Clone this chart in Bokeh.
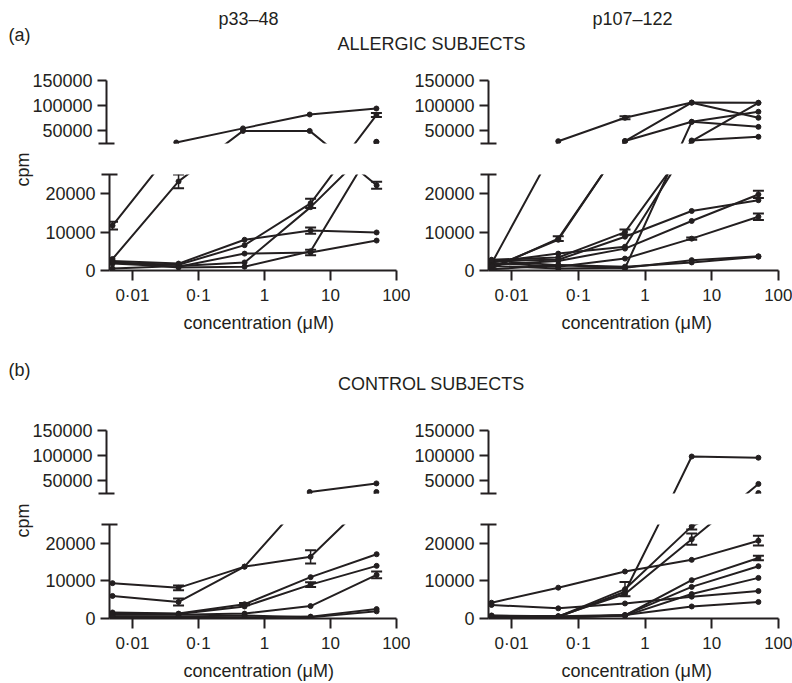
from bokeh.plotting import figure
from bokeh.models import (ColumnDataSource, Range1d, FixedTicker, CustomJSTickFormatter,
                          CustomJSTransform, Whisker, TeeHead, Label, Title)
from bokeh.layouts import column, row
from bokeh.transform import transform
from bokeh.embed import file_html
from bokeh.resources import INLINE

# ---------------- data ----------------
CONC = [0.005, 0.05, 0.5, 5, 50]          # concentration (uM)
X_TICKS = [0.01, 0.1, 1, 10, 100]
Y_TICKS_LOW = [0, 10000, 20000]
Y_TICKS_HIGH = [50000, 100000, 150000]

# (a) allergic subjects, p33-48
ALG_P33 = [
    [11700, 27000, 55000, 82500, 94400],
    [3000, 23200, 50000, 50000, 22200],
    [2500, 1800, 8000, 10400, 9900],
    [500, 1200, 2100, 16500, 28000],
    [2000, 1500, 6600, 17500, 81500],
    [1800, 1000, 4400, 4700, 7800],
    [2300, 800, 1000, 5000, 28500],
]
ALG_P33_ERR = [
    [1000, 0, 0, 0, 0],
    [0, 1800, 0, 0, 900],
    [0, 0, 0, 800, 0],
    [0, 0, 0, 0, 0],
    [0, 0, 0, 1200, 4000],
    [0, 0, 0, 700, 0],
    [0, 0, 0, 0, 0],
]

# (a) allergic subjects, p107-122
ALG_P107 = [
    [1800, 29600, 76000, 106300, 105700],
    [500, 8300, 29600, 106000, 76000],
    [800, 8000, 30000, 68000, 88000],
    [300, 1400, 600, 68000, 58000],
    [2800, 3400, 10000, 31000, 38300],
    [2200, 4400, 6200, 29600, 105700],
    [2500, 2800, 8800, 15500, 18300],
    [1500, 2500, 5700, 12900, 19800],
    [2000, 1000, 3100, 8300, 14000],
    [1200, 500, 700, 2700, 3700],
    [2600, 1400, 1000, 2100, 3600],
]
ALG_P107_ERR = [
    [0, 0, 3000, 0, 0],
    [0, 650, 0, 0, 0],
    [0, 0, 0, 0, 0],
    [0, 0, 0, 0, 0],
    [0, 0, 700, 0, 0],
    [0, 0, 0, 0, 0],
    [0, 0, 0, 0, 0],
    [0, 0, 0, 0, 950],
    [0, 0, 0, 300, 850],
    [0, 0, 0, 0, 0],
    [0, 0, 0, 0, 0],
]

# (b) control subjects, p33-48
CTL_P33 = [
    [9400, 8150, 13800, 16400, 28000],
    [6000, 4400, 13800, 28000, 45000],
    [1600, 1300, 3800, 11000, 17100],
    [1300, 1200, 3200, 9000, 14000],
    [1000, 1000, 1300, 3300, 11600],
    [300, 300, 300, 500, 2500],
    [600, 500, 800, 300, 1900],
]
CTL_P33_ERR = [
    [0, 650, 0, 1750, 0],
    [0, 950, 0, 0, 0],
    [0, 0, 300, 0, 0],
    [0, 0, 0, 650, 0],
    [0, 0, 0, 0, 870],
    [0, 0, 0, 0, 0],
    [0, 0, 0, 0, 0],
]

# (b) control subjects, p107-122
CTL_P107 = [
    [500, 400, 7100, 98400, 96000],
    [600, 500, 7800, 24500, 26000],
    [700, 600, 6500, 21100, 44000],
    [4200, 8200, 12500, 15600, 20700],
    [3600, 2700, 4000, 5800, 7300],
    [300, 300, 800, 10200, 16100],
    [300, 200, 900, 8400, 13900],
    [200, 300, 700, 6500, 10800],
    [800, 600, 900, 3200, 4400],
]
CTL_P107_ERR = [
    [0, 0, 0, 0, 0],
    [0, 0, 1900, 800, 0],
    [0, 0, 0, 1500, 0],
    [0, 0, 0, 0, 1300],
    [0, 0, 0, 0, 0],
    [0, 0, 0, 0, 600],
    [0, 0, 0, 0, 0],
    [0, 0, 0, 0, 0],
    [0, 0, 0, 0, 0],
]

# ---------------- style / geometry ----------------
INK = "#231f20"
FONT = "Liberation Sans"
LOW_PX, GAP_PX, UP_PX = 96, 31, 63
BREAK = 25000
TOP = 150000
U = BREAK / LOW_PX
GAP = GAP_PX * U
K = UP_PX * U / (TOP - BREAK)
X0, X1 = 0.0045, 100
FRAME_W = 290


def T(v):
    return v if v <= BREAK else BREAK + GAP + (v - BREAK) * K


def brk_transform():
    return CustomJSTransform(
        args=dict(lo=BREAK, gap=GAP, k=K),
        func="return x <= lo ? x : lo + gap + (x - lo) * k;",
        v_func="""
const out = new Float64Array(xs.length);
for (let i = 0; i < xs.length; i++) {
  const v = xs[i];
  out[i] = v <= lo ? v : lo + gap + (v - lo) * k;
}
return out;""")


def style_y(ya, ticks, minor):
    ya.ticker = FixedTicker(ticks=ticks, minor_ticks=minor)
    ya.formatter = CustomJSTickFormatter(args=dict(lo=BREAK, gap=GAP, k=K), code="""
const v = tick <= lo + 1e-6 ? tick : lo + (tick - lo - gap) / k;
return String(Math.round(v / 1000) * 1000);""")
    ya.major_label_text_font = FONT
    ya.major_label_text_font_size = "18px"
    ya.major_label_text_color = INK
    ya.major_tick_in = 0
    ya.major_tick_out = 9
    ya.minor_tick_in = 8
    ya.minor_tick_out = 8
    ya.minor_tick_line_width = 2
    ya.minor_tick_line_color = INK
    ya.major_label_standoff = 5
    ya.axis_line_width = 2
    ya.major_tick_line_width = 2
    ya.axis_line_color = INK
    ya.major_tick_line_color = INK


def fill(p, series, errs, keep):
    brk = brk_transform()
    ex, elo, ehi = [], [], []
    for vals, err in zip(series, errs):
        src = ColumnDataSource(dict(x=CONC, y=vals))
        p.line("x", transform("y", brk), source=src, line_color=INK, line_width=2)
        p.scatter("x", transform("y", brk), source=src, size=5, color=INK)
        for c, v, e in zip(CONC, vals, err):
            if e > 0 and keep(v):
                ex.append(c)
                elo.append(v - e)
                ehi.append(v + e)
    if ex:
        esrc = ColumnDataSource(dict(x=ex, lo=elo, hi=ehi))
        p.add_layout(Whisker(base="x", lower=transform("lo", brk), upper=transform("hi", brk),
                             source=esrc, dimension="height", line_color=INK, line_width=1.5,
                             upper_head=TeeHead(size=11, line_color=INK, line_width=2),
                             lower_head=TeeHead(size=11, line_color=INK, line_width=2)))


def make_pair(series, errs, width, left, top, low_bottom, xlab_offset, cpm_offset):
    right = width - left - FRAME_W
    # upper (broken) part
    up = figure(width=width, height=top + UP_PX + 3, title=None, x_axis_type="log",
                x_range=Range1d(X0, X1), y_range=Range1d(BREAK + GAP, T(TOP)),
                output_backend="svg", toolbar_location=None,
                min_border_left=left, min_border_right=right,
                min_border_top=top, min_border_bottom=3)
    up.grid.visible = False
    up.outline_line_color = None
    up.xaxis.visible = False
    fill(up, series, errs, lambda v: v > BREAK)
    style_y(up.yaxis[0], [T(v) for v in Y_TICKS_HIGH], [BREAK + GAP])

    # lower part
    lo_top = GAP_PX - 3
    low = figure(width=width, height=lo_top + LOW_PX + low_bottom, title=None, x_axis_type="log",
                 x_range=Range1d(X0, X1), y_range=Range1d(0, BREAK),
                 output_backend="svg", toolbar_location=None,
                 min_border_left=left, min_border_right=right,
                 min_border_top=lo_top, min_border_bottom=low_bottom)
    low.grid.visible = False
    low.outline_line_color = None
    fill(low, series, errs, lambda v: v <= BREAK)
    style_y(low.yaxis[0], Y_TICKS_LOW, [BREAK])

    xa = low.xaxis[0]
    xa.ticker = FixedTicker(ticks=X_TICKS)
    xa.formatter = CustomJSTickFormatter(code="return String(tick).replace('.', '\u00b7');")
    xa.major_label_text_font = FONT
    xa.major_label_text_font_size = "17px"
    xa.major_label_text_color = INK
    xa.major_tick_in = 0
    xa.major_tick_out = 10
    xa.minor_tick_in = 0
    xa.minor_tick_out = 0
    xa.major_label_standoff = 5
    xa.axis_line_width = 2
    xa.major_tick_line_width = 2
    xa.axis_line_color = INK
    xa.major_tick_line_color = INK

    low.add_layout(Title(text="concentration (\u03bcM)", align="left", offset=xlab_offset,
                         standoff=6, text_font=FONT, text_font_size="18px",
                         text_font_style="normal", text_color=INK), "below")
    if cpm_offset is not None:
        low.add_layout(Title(text="cpm", align="right", offset=cpm_offset, standoff=20,
                             text_font=FONT, text_font_size="18px",
                             text_font_style="normal", text_color=INK), "left")
    return up, low


def make_header(width, height, items):
    h = figure(width=width, height=height, title=None, output_backend="svg",
               toolbar_location=None, x_range=Range1d(0, 1), y_range=Range1d(0, 1),
               min_border=0, min_border_left=0, min_border_right=0,
               min_border_top=0, min_border_bottom=0)
    h.axis.visible = False
    h.grid.visible = False
    h.outline_line_color = None
    for (x, y, txt, align) in items:
        h.add_layout(Label(x=x, y=y, x_units="screen", y_units="screen", text=txt,
                           text_font=FONT, text_font_size="18px", text_color=INK,
                           text_align=align, text_baseline="middle"))
    return h


TOTAL_W = 792
LEFT_W, RIGHT_W = 410, 382

head_a = make_header(TOTAL_W, 60, [
    (8, 26, "(a)", "left"),
    (248, 42, "p33\u201348", "center"),
    (632, 42, "p107\u2013122", "center"),
    (431, 17, "ALLERGIC SUBJECTS", "center"),
])
ua1, la1 = make_pair(ALG_P33, ALG_P33_ERR, LEFT_W, 106, 20, 70, 74, -22)
ua2, la2 = make_pair(ALG_P107, ALG_P107_ERR, RIGHT_W, 78, 20, 70, 73, None)

head_b = make_header(TOTAL_W, 80, [
    (8, 51, "(b)", "left"),
    (431, 37, "CONTROL SUBJECTS", "center"),
])
ub1, lb1 = make_pair(CTL_P33, CTL_P33_ERR, LEFT_W, 106, 10, 63, 74, -21)
ub2, lb2 = make_pair(CTL_P107, CTL_P107_ERR, RIGHT_W, 78, 10, 63, 73, None)

layout = column(head_a, row(ua1, ua2), row(la1, la2),
                head_b, row(ub1, ub2), row(lb1, lb2))

with open("out.html", "w") as f:
    f.write(file_html(layout, INLINE))
